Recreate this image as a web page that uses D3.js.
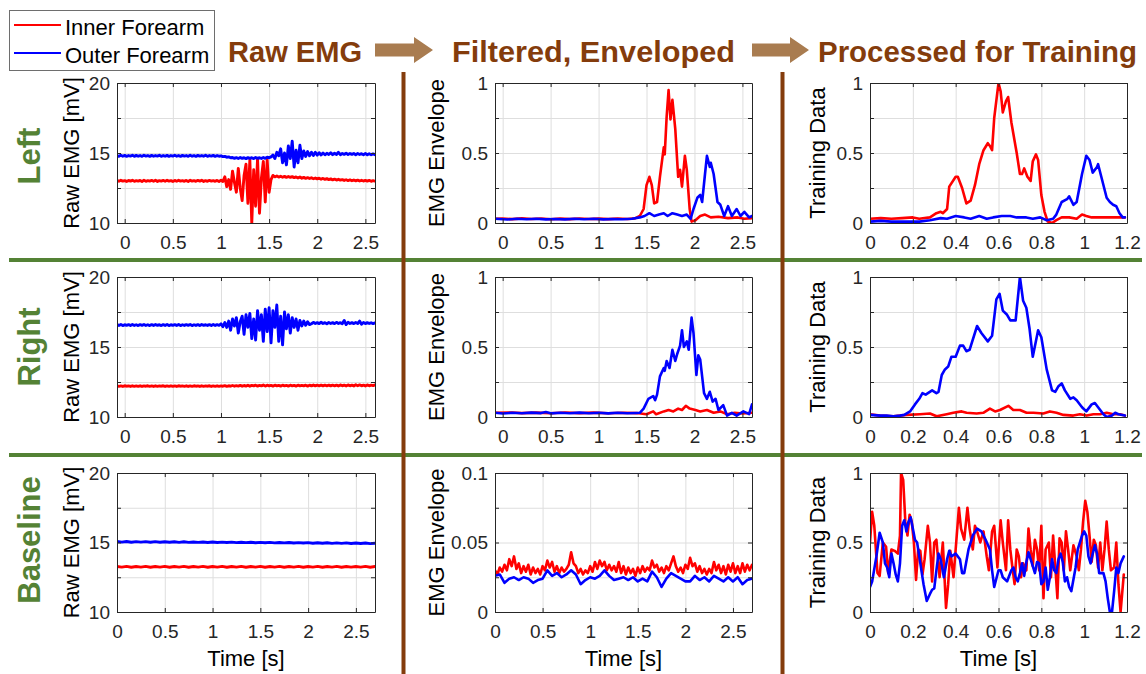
<!DOCTYPE html>
<html><head><meta charset="utf-8">
<script src="https://cdn.jsdelivr.net/npm/d3@7"></script>
<style>body{margin:0;background:#fff}svg{display:block}</style>
</head><body>
<svg id="chart" width="1146" height="674"></svg>
<script>
// ---------------- DATA ----------------
const seriesNames = ['Inner Forearm', 'Outer Forearm'];
const stageTitles = ['Raw EMG', 'Filtered, Enveloped', 'Processed for Training'];
const conditionLabels = ['Left', 'Right', 'Baseline'];
const yLabelNames = ['Raw EMG [mV]', 'EMG Envelope', 'Training Data'];
const xLabelName = 'Time [s]';

const timeTicks = [0, 0.5, 1, 1.5, 2, 2.5];
const trainTicks = [0, 0.2, 0.4, 0.6, 0.8, 1, 1.2];
const rawGrid = [10, 12.5, 15, 17.5, 20];
const rawTickLabels = [10, 15, 20];
const unitGrid = [0, 0.25, 0.5, 0.75, 1];
const unitTickLabels = [0, 0.5, 1];
const smallGrid = [0, 0.025, 0.05, 0.075, 0.1];
const smallTickLabels = [0, 0.05, 0.1];

// Raw EMG, uniformly sampled from -0.08 s to 2.6 s (Left, Right) and 0 to 2.7 s (Baseline)
const rawLeftOuter = [
14.82,14.76,14.84,14.77,14.83,14.76,14.82,14.78,14.84,14.76,
14.83,14.77,14.82,14.76,14.84,14.78,14.82,14.76,14.83,14.77,
14.82,14.78,14.84,14.76,14.82,14.77,14.83,14.76,14.82,14.78,
14.84,14.77,14.82,14.76,14.83,14.78,14.82,14.76,14.84,14.77,
14.82,14.76,14.83,14.78,14.82,14.77,14.84,14.76,14.82,14.78,
14.83,14.76,14.82,14.77,14.8,14.74,14.76,14.7,14.72,14.66,
14.68,14.62,14.67,14.61,14.68,14.62,14.66,14.6,14.67,14.62,
14.66,14.6,14.68,14.62,14.66,14.61,14.68,14.62,14.7,14.66,
14.72,14.85,14.6,15.05,14.8,15.3,14.3,15.0,14.15,15.5,
14.6,15.85,14.0,15.2,14.3,15.55,14.6,15.15,14.75,15.1,
14.8,15.05,14.82,15.05,14.85,15.02,14.86,15.0,14.87,14.98,
14.9,15.02,14.88,14.98,14.9,15.05,14.88,14.97,14.9,14.98,
14.89,14.96,14.9,14.97,14.88,14.96,14.89,14.95,14.88,14.96,
14.87,14.95,14.88,14.94,14.88];
const rawLeftInner = [
13.04,12.98,13.05,12.99,13.03,12.97,13.04,12.99,13.05,12.98,
13.03,12.99,13.04,12.97,13.05,12.98,13.03,12.99,13.04,12.98,
13.05,12.97,13.03,12.99,13.04,12.98,13.05,12.99,13.03,12.97,
13.04,12.98,13.05,12.99,13.03,12.98,13.04,12.97,13.05,12.99,
13.03,12.98,13.04,12.99,13.05,12.97,13.03,12.98,13.04,12.99,
13.03,12.98,13.04,12.97,13.05,12.96,13.3,12.6,13.1,12.4,
13.7,12.9,12.2,13.9,12.5,11.6,13.4,14.2,11.4,14.5,
10.0,13.8,11.2,14.6,10.7,13.2,14.4,11.5,14.5,12.2,
13.1,13.4,13.3,13.36,13.28,13.34,13.27,13.33,13.26,13.32,
13.26,13.31,13.24,13.29,13.22,13.28,13.2,13.26,13.19,13.24,
13.18,13.23,13.16,13.21,13.15,13.2,13.13,13.18,13.12,13.17,
13.1,13.15,13.08,13.13,13.07,13.12,13.06,13.1,13.04,13.09,
13.03,13.08,13.02,13.07,13.01,13.06,13.0,13.05,13.0,13.04,
12.99,13.04,12.98,13.03,12.99];
const rawRightOuter = [
16.6,16.54,16.61,16.53,16.59,16.55,16.6,16.53,16.61,16.54,
16.59,16.53,16.6,16.55,16.61,16.54,16.59,16.53,16.6,16.54,
16.61,16.55,16.59,16.53,16.6,16.54,16.61,16.53,16.59,16.55,
16.6,16.54,16.61,16.53,16.59,16.54,16.6,16.55,16.61,16.53,
16.59,16.54,16.6,16.53,16.61,16.55,16.59,16.54,16.6,16.53,
16.61,16.54,16.6,16.55,
16.65,16.45,16.75,16.4,16.85,
16.2,17.0,16.5,17.1,16.0,16.8,17.2,
15.9,17.3,16.4,17.4,15.6,17.0,
15.5,17.6,16.2,17.3,15.4,17.7,
16.1,17.8,15.3,17.6,16.4,18.0,
15.4,17.2,15.15,17.5,16.3,17.3,
16.0,17.1,16.4,17.0,16.2,16.9,
16.5,16.85,16.55,16.8,16.6,
16.66,16.76,16.68,16.74,16.67,16.77,16.68,16.74,16.66,16.75,
16.68,16.74,16.67,16.76,16.68,16.74,16.66,16.9,16.6,16.76,
16.68,16.74,16.67,16.75,16.68,16.85,16.62,16.75,16.67,16.74,
16.68,16.73,16.67,16.72];
const rawRightInner = [
12.23,12.19,12.22,12.18,12.23,12.2,12.22,12.18,12.23,12.19,
12.22,12.19,12.23,12.18,12.22,12.2,12.23,12.19,12.22,12.18,
12.23,12.19,12.22,12.2,12.23,12.18,12.22,12.19,12.23,12.19,
12.22,12.18,12.23,12.2,12.22,12.19,12.23,12.18,12.22,12.19,
12.23,12.2,12.22,12.18,12.23,12.19,12.22,12.2,12.23,12.18,
12.22,12.19,12.23,12.19,12.22,12.2,12.24,12.19,12.23,12.2,
12.25,12.2,12.24,12.21,12.26,12.2,12.25,12.21,12.27,12.2,
12.26,12.22,12.27,12.21,12.26,12.22,12.28,12.21,12.27,12.22,
12.26,12.21,12.27,12.22,12.26,12.21,12.27,12.22,12.26,12.21,
12.27,12.22,12.26,12.21,12.27,12.22,12.26,12.22,12.27,12.21,
12.27,12.22,12.28,12.22,12.27,12.23,12.28,12.22,12.27,12.23,
12.28,12.22,12.27,12.23,12.28,12.22,12.29,12.23,12.28,12.22,
12.29,12.23,12.28,12.22,12.3,12.23,12.29,12.23,12.28,12.22,
12.29,12.23,12.28,12.24,12.29];
const rawBaseOuter = [
15.07,15.03,15.07,15.02,15.06,15.03,15.06,15.02,15.06,15.02,
15.05,15.02,15.05,15.01,15.05,15.01,15.04,15.01,15.04,15.0,
15.04,15.0,15.03,15.0,15.03,14.99,15.02,14.99,15.02,14.98,
15.01,14.98,15.01,14.97,15.0,14.97,15.0,14.96,14.99,14.96,
14.99,14.95,14.98,14.95,14.98,14.94,14.97,14.94,14.97,14.93,
14.96,14.93,14.96,14.92,14.95];
const rawBaseInner = [
13.27,13.23,13.28,13.22,13.27,13.23,13.28,13.22,13.27,13.23,
13.28,13.22,13.27,13.23,13.28,13.22,13.27,13.23,13.28,13.22,
13.27,13.23,13.28,13.22,13.27,13.23,13.28,13.22,13.27,13.23,
13.28,13.22,13.27,13.23,13.28,13.22,13.27,13.23,13.28,13.22,
13.27,13.23,13.28,13.22,13.27,13.23,13.28,13.22,13.27,13.23,
13.27,13.23,13.28,13.22,13.27];

// EMG envelope, [time s, value]
const envLeftInner = [[-0.08,0.03],[0,0.032],[0.1,0.028],[0.2,0.033],[0.3,0.029],[0.4,0.032],[0.5,0.027],[0.6,0.031],[0.7,0.028],[0.8,0.032],[0.9,0.029],[1.0,0.031],[1.1,0.028],[1.2,0.032],[1.3,0.029],[1.38,0.033],[1.43,0.05],[1.47,0.1],[1.5,0.27],[1.53,0.33],[1.555,0.27],[1.58,0.14],[1.61,0.15],[1.64,0.33],[1.68,0.54],[1.69,0.49],[1.71,0.76],[1.73,0.95],[1.75,0.74],[1.77,0.88],[1.8,0.67],[1.83,0.33],[1.85,0.38],[1.87,0.26],[1.9,0.48],[1.92,0.38],[1.95,0.1],[1.97,0.01],[2.01,0.02],[2.06,0.05],[2.11,0.06],[2.17,0.04],[2.25,0.045],[2.35,0.035],[2.45,0.04],[2.52,0.03],[2.6,0.035]];
const envLeftOuter = [[-0.08,0.03],[0.05,0.025],[0.15,0.03],[0.25,0.027],[0.35,0.03],[0.45,0.026],[0.55,0.029],[0.65,0.026],[0.75,0.03],[0.85,0.027],[0.95,0.03],[1.05,0.026],[1.15,0.029],[1.25,0.027],[1.35,0.03],[1.43,0.04],[1.48,0.05],[1.53,0.07],[1.58,0.05],[1.63,0.06],[1.68,0.07],[1.72,0.05],[1.77,0.07],[1.82,0.06],[1.87,0.05],[1.92,0.06],[1.96,0.03],[1.99,0.1],[2.03,0.18],[2.06,0.2],[2.08,0.15],[2.11,0.35],[2.13,0.48],[2.16,0.4],[2.17,0.43],[2.2,0.35],[2.24,0.15],[2.27,0.13],[2.31,0.05],[2.35,0.12],[2.39,0.05],[2.44,0.1],[2.48,0.05],[2.52,0.08],[2.57,0.04],[2.6,0.05]];
const envRightInner = [[-0.08,0.03],[0.1,0.032],[0.2,0.028],[0.35,0.031],[0.5,0.027],[0.65,0.032],[0.8,0.028],[0.95,0.031],[1.1,0.027],[1.25,0.03],[1.4,0.028],[1.5,0.02],[1.57,0.04],[1.6,0.02],[1.68,0.04],[1.73,0.05],[1.78,0.04],[1.83,0.06],[1.87,0.05],[1.91,0.08],[1.95,0.06],[2.01,0.05],[2.06,0.04],[2.13,0.05],[2.2,0.03],[2.27,0.04],[2.34,0.02],[2.42,0.03],[2.5,0.025],[2.6,0.03]];
const envRightOuter = [[-0.08,0.03],[0.0,0.025],[0.1,0.03],[0.2,0.027],[0.3,0.031],[0.4,0.028],[0.45,0.035],[0.5,0.026],[0.6,0.03],[0.7,0.027],[0.8,0.031],[0.9,0.027],[1.0,0.03],[1.1,0.026],[1.2,0.03],[1.3,0.027],[1.4,0.029],[1.43,0.03],[1.47,0.06],[1.52,0.13],[1.57,0.15],[1.59,0.12],[1.61,0.16],[1.64,0.29],[1.68,0.35],[1.69,0.33],[1.71,0.4],[1.74,0.35],[1.77,0.48],[1.8,0.4],[1.82,0.45],[1.85,0.51],[1.87,0.62],[1.89,0.5],[1.92,0.54],[1.94,0.48],[1.97,0.71],[1.99,0.6],[2.02,0.3],[2.04,0.44],[2.06,0.41],[2.1,0.17],[2.13,0.13],[2.16,0.18],[2.19,0.11],[2.22,0.13],[2.25,0.05],[2.3,0.085],[2.34,0.01],[2.39,0.03],[2.44,0.01],[2.51,0.04],[2.57,0.02],[2.6,0.09]];
// Baseline envelope, uniformly sampled 0 to 2.7 s
const envBaseInner = [
0.030,0.027,0.032,0.029,0.034,0.030,0.038,0.033,0.040,0.031,
0.035,0.028,0.033,0.029,0.034,0.027,0.032,0.028,0.031,0.027,
0.033,0.030,0.037,0.032,0.036,0.029,0.033,0.028,0.032,0.029,
0.031,0.034,0.043,0.035,0.033,0.028,0.031,0.027,0.030,0.028,
0.033,0.029,0.036,0.031,0.037,0.033,0.036,0.030,0.034,0.030,
0.033,0.029,0.036,0.028,0.033,0.027,0.032,0.028,0.031,0.026,
0.032,0.028,0.033,0.029,0.032,0.030,0.037,0.032,0.034,0.029,
0.032,0.028,0.033,0.030,0.035,0.040,0.033,0.029,0.032,0.028,
0.034,0.031,0.039,0.033,0.035,0.029,0.033,0.028,0.031,0.027,
0.031,0.028,0.036,0.030,0.034,0.028,0.033,0.027,0.034,0.029,
0.035,0.028,0.033,0.028,0.035,0.029,0.034,0.030,0.034];
const envBaseOuter = [
0.026,0.027,0.021,0.024,0.025,0.023,0.025,0.024,0.021,0.023,
0.024,0.030,0.026,0.028,0.025,0.027,0.030,0.027,0.020,0.023,
0.025,0.024,0.026,0.030,0.026,0.023,0.024,0.025,0.023,0.025,
0.022,0.024,0.022,0.029,0.025,0.018,0.024,0.028,0.026,0.024,
0.022,0.022,0.026,0.023,0.025,0.022,0.026,0.024,0.022,0.025,
0.022,0.025,0.020,0.023,0.024];

// Training data, [time s, value]
const trainLeftInner = [[0,0.03],[0.05,0.035],[0.1,0.03],[0.15,0.035],[0.2,0.04],[0.23,0.03],[0.28,0.04],[0.31,0.07],[0.33,0.08],[0.34,0.07],[0.36,0.1],[0.37,0.26],[0.4,0.33],[0.41,0.33],[0.43,0.25],[0.45,0.14],[0.47,0.16],[0.49,0.27],[0.51,0.42],[0.53,0.52],[0.55,0.57],[0.56,0.55],[0.57,0.52],[0.58,0.75],[0.6,1.0],[0.61,0.94],[0.62,0.79],[0.635,0.87],[0.645,0.9],[0.66,0.72],[0.685,0.5],[0.7,0.35],[0.71,0.35],[0.72,0.39],[0.735,0.33],[0.75,0.3],[0.76,0.44],[0.775,0.49],[0.785,0.45],[0.8,0.2],[0.815,0.08],[0.83,0.01],[0.85,0.0],[0.87,0.02],[0.895,0.04],[0.93,0.04],[0.965,0.03],[0.99,0.06],[1.01,0.05],[1.035,0.04],[1.07,0.04],[1.12,0.04],[1.19,0.04]];
const trainLeftOuter = [[0,0.01],[0.05,0.015],[0.1,0.01],[0.15,0.01],[0.2,0.01],[0.23,0.01],[0.28,0.02],[0.33,0.035],[0.36,0.03],[0.4,0.05],[0.44,0.04],[0.47,0.03],[0.51,0.05],[0.545,0.03],[0.575,0.04],[0.615,0.05],[0.655,0.05],[0.685,0.04],[0.73,0.04],[0.76,0.03],[0.795,0.04],[0.825,0.02],[0.855,0.03],[0.87,0.06],[0.895,0.15],[0.92,0.17],[0.93,0.19],[0.95,0.13],[0.965,0.15],[0.99,0.35],[1.01,0.48],[1.025,0.45],[1.04,0.36],[1.06,0.4],[1.065,0.42],[1.08,0.33],[1.105,0.18],[1.12,0.15],[1.135,0.13],[1.15,0.12],[1.165,0.07],[1.18,0.04],[1.19,0.04]];
const trainRightInner = [[0,0.02],[0.047,0.01],[0.109,0.005],[0.171,0.015],[0.233,0.02],[0.28,0.025],[0.311,0.005],[0.358,0.02],[0.389,0.03],[0.428,0.04],[0.451,0.03],[0.498,0.025],[0.529,0.03],[0.56,0.06],[0.584,0.04],[0.607,0.05],[0.646,0.08],[0.669,0.05],[0.7,0.05],[0.731,0.03],[0.763,0.03],[0.809,0.025],[0.84,0.04],[0.871,0.03],[0.903,0.015],[0.949,0.01],[0.98,0.02],[1.012,0.01],[1.043,0.02],[1.074,0.02],[1.105,0.03],[1.136,0.02],[1.167,0.02],[1.19,0.01]];
const trainRightOuter = [[0,0.015],[0.047,0.01],[0.078,0.01],[0.109,0.005],[0.14,0.01],[0.16,0.015],[0.187,0.04],[0.21,0.09],[0.23,0.13],[0.245,0.17],[0.26,0.16],[0.29,0.19],[0.31,0.17],[0.32,0.18],[0.335,0.3],[0.35,0.34],[0.365,0.36],[0.38,0.43],[0.4,0.43],[0.42,0.51],[0.435,0.51],[0.45,0.47],[0.465,0.48],[0.5,0.65],[0.52,0.6],[0.55,0.54],[0.57,0.58],[0.59,0.84],[0.605,0.88],[0.62,0.76],[0.64,0.73],[0.655,0.69],[0.68,0.69],[0.7,1.0],[0.715,0.83],[0.73,0.78],[0.745,0.63],[0.76,0.43],[0.785,0.62],[0.8,0.57],[0.825,0.34],[0.85,0.19],[0.865,0.18],[0.88,0.22],[0.895,0.24],[0.91,0.19],[0.935,0.13],[0.95,0.14],[0.965,0.12],[0.99,0.07],[1.01,0.04],[1.035,0.09],[1.05,0.1],[1.065,0.07],[1.09,0.02],[1.105,0.0],[1.13,0.01],[1.145,0.03],[1.16,0.02],[1.19,0.01]];
const trainBaseInner = [[0,0.5],[0.01,0.72],[0.02,0.62],[0.035,0.28],[0.045,0.26],[0.06,0.5],[0.075,0.47],[0.085,0.28],[0.1,0.45],[0.115,0.44],[0.13,0.42],[0.14,0.55],[0.145,1.0],[0.155,0.95],[0.165,0.65],[0.175,0.55],[0.185,0.7],[0.195,0.65],[0.205,0.5],[0.215,0.23],[0.225,0.45],[0.235,0.44],[0.245,0.27],[0.255,0.38],[0.27,0.62],[0.28,0.5],[0.29,0.22],[0.3,0.5],[0.31,0.52],[0.325,0.25],[0.34,0.5],[0.355,0.03],[0.365,0.2],[0.375,0.44],[0.39,0.25],[0.4,0.45],[0.415,0.75],[0.425,0.6],[0.44,0.52],[0.455,0.75],[0.465,0.6],[0.48,0.45],[0.49,0.62],[0.5,0.58],[0.515,0.5],[0.53,0.58],[0.545,0.4],[0.555,0.3],[0.57,0.58],[0.58,0.62],[0.595,0.32],[0.61,0.66],[0.62,0.5],[0.635,0.3],[0.645,0.66],[0.655,0.45],[0.665,0.32],[0.675,0.2],[0.685,0.45],[0.695,0.4],[0.705,0.25],[0.715,0.35],[0.73,0.3],[0.74,0.6],[0.75,0.45],[0.76,0.33],[0.77,0.52],[0.78,0.45],[0.79,0.3],[0.8,0.62],[0.81,0.1],[0.82,0.45],[0.835,0.5],[0.845,0.25],[0.855,0.55],[0.865,0.33],[0.875,0.1],[0.885,0.53],[0.895,0.5],[0.905,0.3],[0.915,0.58],[0.925,0.45],[0.935,0.3],[0.95,0.48],[0.965,0.4],[0.975,0.3],[0.985,0.45],[0.995,0.65],[1.005,0.8],[1.015,0.72],[1.025,0.55],[1.035,0.36],[1.045,0.52],[1.055,0.48],[1.065,0.32],[1.075,0.5],[1.085,0.3],[1.095,0.45],[1.105,0.65],[1.115,0.45],[1.125,0.3],[1.14,0.32],[1.15,0.5],[1.16,0.2],[1.17,0.0],[1.185,0.27]];
const trainBaseOuter = [[0,0.18],[0.01,0.22],[0.03,0.4],[0.045,0.57],[0.06,0.5],[0.07,0.35],[0.08,0.32],[0.09,0.25],[0.1,0.42],[0.11,0.35],[0.12,0.27],[0.13,0.22],[0.14,0.35],[0.15,0.62],[0.16,0.66],[0.17,0.58],[0.18,0.65],[0.19,0.68],[0.2,0.6],[0.21,0.52],[0.22,0.5],[0.23,0.4],[0.25,0.2],[0.265,0.08],[0.28,0.13],[0.29,0.16],[0.3,0.17],[0.31,0.3],[0.32,0.42],[0.33,0.38],[0.345,0.25],[0.36,0.38],[0.37,0.44],[0.38,0.4],[0.4,0.42],[0.42,0.38],[0.43,0.28],[0.44,0.28],[0.46,0.45],[0.48,0.55],[0.5,0.6],[0.52,0.58],[0.54,0.52],[0.56,0.45],[0.57,0.3],[0.58,0.18],[0.6,0.3],[0.61,0.3],[0.62,0.25],[0.64,0.22],[0.66,0.3],[0.67,0.32],[0.68,0.25],[0.69,0.22],[0.7,0.28],[0.71,0.35],[0.72,0.26],[0.73,0.36],[0.74,0.43],[0.75,0.38],[0.77,0.28],[0.78,0.36],[0.79,0.35],[0.8,0.2],[0.81,0.22],[0.82,0.32],[0.83,0.16],[0.84,0.25],[0.85,0.38],[0.86,0.3],[0.87,0.28],[0.88,0.38],[0.89,0.42],[0.9,0.36],[0.91,0.22],[0.92,0.25],[0.93,0.18],[0.94,0.15],[0.96,0.32],[0.97,0.45],[0.99,0.55],[1.0,0.58],[1.01,0.55],[1.02,0.4],[1.03,0.35],[1.04,0.42],[1.05,0.48],[1.06,0.42],[1.07,0.28],[1.09,0.28],[1.1,0.22],[1.11,0.1],[1.12,0.0],[1.13,0.0],[1.14,0.15],[1.15,0.32],[1.16,0.28],[1.17,0.35],[1.185,0.4]];

// ---------------- DRAWING ----------------
const RED = '#ff0000', BLUE = '#0000ff';
const BROWN = '#843C0C', GREEN = '#548235', TAN = '#a97c50', AXC = '#262626';
const FONT = '"Liberation Sans", Arial, Helvetica, sans-serif';
const svg = d3.select('#chart');
svg.append('rect').attr('width', 1146).attr('height', 674).attr('fill', '#fff');

const uniform = (vals, t0, t1) => vals.map((v, i) => [t0 + i * (t1 - t0) / (vals.length - 1), v]);

const cols = [{x0: 117, x1: 375}, {x0: 495, x1: 752}, {x0: 870, x1: 1127}];
const rows = [{y0: 83, y1: 223}, {y0: 277, y1: 417}, {y0: 473, y1: 612}];
const yLabelX = [79, 444, 825];

const fmt = labels => d => labels.some(l => Math.abs(l - d) < 1e-9) ? String(d) : '';

const panels = [
  {row: 0, col: 0, xd: [-0.08, 2.6], yd: [10, 20], xt: timeTicks, yg: rawGrid, yl: rawTickLabels, lw: 2.9,
   s: [[uniform(rawLeftInner, -0.08, 2.6), RED], [uniform(rawLeftOuter, -0.08, 2.6), BLUE]]},
  {row: 0, col: 1, xd: [-0.08, 2.6], yd: [0, 1], xt: timeTicks, yg: unitGrid, yl: unitTickLabels, lw: 2.6,
   s: [[envLeftInner, RED], [envLeftOuter, BLUE]]},
  {row: 0, col: 2, xd: [0, 1.2], yd: [0, 1], xt: trainTicks, yg: unitGrid, yl: unitTickLabels, lw: 2.6,
   s: [[trainLeftInner, RED], [trainLeftOuter, BLUE]]},
  {row: 1, col: 0, xd: [-0.08, 2.6], yd: [10, 20], xt: timeTicks, yg: rawGrid, yl: rawTickLabels, lw: 2.9,
   s: [[uniform(rawRightInner, -0.08, 2.6), RED], [uniform(rawRightOuter, -0.08, 2.6), BLUE]]},
  {row: 1, col: 1, xd: [-0.08, 2.6], yd: [0, 1], xt: timeTicks, yg: unitGrid, yl: unitTickLabels, lw: 2.6,
   s: [[envRightInner, RED], [envRightOuter, BLUE]]},
  {row: 1, col: 2, xd: [0, 1.2], yd: [0, 1], xt: trainTicks, yg: unitGrid, yl: unitTickLabels, lw: 2.6,
   s: [[trainRightInner, RED], [trainRightOuter, BLUE]]},
  {row: 2, col: 0, xd: [0, 2.7], yd: [10, 20], xt: timeTicks, yg: rawGrid, yl: rawTickLabels, lw: 2.9,
   s: [[uniform(rawBaseInner, 0, 2.7), RED], [uniform(rawBaseOuter, 0, 2.7), BLUE]]},
  {row: 2, col: 1, xd: [0, 2.7], yd: [0, 0.1], xt: timeTicks, yg: smallGrid, yl: smallTickLabels, lw: 2.6,
   s: [[uniform(envBaseInner, 0, 2.7), RED], [uniform(envBaseOuter, 0, 2.7), BLUE]]},
  {row: 2, col: 2, xd: [0, 1.2], yd: [0, 1], xt: trainTicks, yg: unitGrid, yl: unitTickLabels, lw: 2.6,
   s: [[trainBaseInner, RED], [trainBaseOuter, BLUE]]}
];

const defs = svg.append('defs');

panels.forEach((p, k) => {
  const c = cols[p.col], r = rows[p.row];
  const w = c.x1 - c.x0, h = r.y1 - r.y0;
  const x = d3.scaleLinear().domain(p.xd).range([c.x0, c.x1]);
  const y = d3.scaleLinear().domain(p.yd).range([r.y1, r.y0]);
  const g = svg.append('g');

  // grid
  const inX = p.xt.filter(v => v > p.xd[0] + 1e-9 && v < p.xd[1] - 1e-9);
  const inY = p.yg.filter(v => v > p.yd[0] + 1e-9 && v < p.yd[1] - 1e-9);
  const gx = g.append('g').attr('transform', `translate(0,${r.y1})`)
    .call(d3.axisBottom(x).tickValues(inX).tickSize(-h).tickFormat(''));
  const gy = g.append('g').attr('transform', `translate(${c.x0},0)`)
    .call(d3.axisLeft(y).tickValues(inY).tickSize(-w).tickFormat(''));
  [gx, gy].forEach(a => { a.select('.domain').remove(); a.selectAll('line').attr('stroke', '#dedede').attr('stroke-width', 1); });

  // data lines
  defs.append('clipPath').attr('id', 'clip' + k).append('rect')
    .attr('x', c.x0).attr('y', r.y0).attr('width', w).attr('height', h);
  const line = d3.line().x(d => x(d[0])).y(d => y(d[1]));
  p.s.forEach(([data, color]) => {
    g.append('path').attr('d', line(data)).attr('clip-path', `url(#clip${k})`)
      .attr('fill', 'none').attr('stroke', color).attr('stroke-width', p.lw)
      .attr('stroke-linejoin', 'round').attr('stroke-linecap', 'round');
  });

  // axes
  const styleAxis = a => {
    a.select('.domain').attr('stroke', AXC).attr('stroke-width', 1);
    a.selectAll('.tick line').attr('stroke', AXC);
    a.selectAll('text').attr('fill', AXC).attr('font-family', FONT).attr('font-size', 19);
  };
  const ab = g.append('g').attr('transform', `translate(0,${r.y1})`)
    .call(d3.axisBottom(x).tickValues(p.xt).tickSizeInner(-4).tickSizeOuter(0).tickPadding(13).tickFormat(d => String(d)));
  const at = g.append('g').attr('transform', `translate(0,${r.y0})`)
    .call(d3.axisTop(x).tickValues(p.xt).tickSizeInner(-4).tickSizeOuter(0).tickFormat(''));
  const al = g.append('g').attr('transform', `translate(${c.x0},0)`)
    .call(d3.axisLeft(y).tickValues(p.yg).tickSizeInner(-4).tickSizeOuter(0).tickPadding(7).tickFormat(fmt(p.yl)));
  const ar = g.append('g').attr('transform', `translate(${c.x1},0)`)
    .call(d3.axisRight(y).tickValues(p.yg).tickSizeInner(-4).tickSizeOuter(0).tickFormat(''));
  [ab, at, al, ar].forEach(styleAxis);

  // y label
  g.append('text').attr('transform', `translate(${yLabelX[p.col]},${(r.y0 + r.y1) / 2}) rotate(-90)`)
    .attr('text-anchor', 'middle').attr('font-family', FONT).attr('font-size', 22).attr('fill', '#000')
    .text(yLabelNames[p.col]);
  // x label for bottom row
  if (p.row === 2) {
    g.append('text').attr('x', (c.x0 + c.x1) / 2).attr('y', 666).attr('text-anchor', 'middle')
      .attr('font-family', FONT).attr('font-size', 22).attr('fill', '#000').text(xLabelName);
  }
});

// separators
[260, 455].forEach(yy => svg.append('line').attr('x1', 9).attr('x2', 1142).attr('y1', yy).attr('y2', yy)
  .attr('stroke', GREEN).attr('stroke-width', 4));
[403.5, 782.5].forEach(xx => svg.append('line').attr('x1', xx).attr('x2', xx).attr('y1', 72).attr('y2', 674)
  .attr('stroke', BROWN).attr('stroke-width', 4));

// row labels
const rowCenters = [156, 347, 540];
conditionLabels.forEach((t, i) => {
  svg.append('text').attr('transform', `translate(40,${rowCenters[i]}) rotate(-90)`)
    .attr('text-anchor', 'middle').attr('font-family', FONT).attr('font-weight', 'bold')
    .attr('font-size', 31).attr('fill', GREEN).text(t);
});

// stage headers
const headerPos = [[228, 362], [452, 735], [818, 1137]];
stageTitles.forEach((t, i) => {
  svg.append('text').attr('x', headerPos[i][0]).attr('y', 62)
    .attr('font-family', FONT)
    .attr('font-weight', 'bold').attr('font-size', 29).attr('fill', BROWN)
    .attr('textLength', headerPos[i][1] - headerPos[i][0]).attr('lengthAdjust', 'spacingAndGlyphs')
    .text(t);
});
// arrows
[[375, 433], [752, 809]].forEach(([a, b]) => {
  const cy = 50, hb = b - 19;
  svg.append('path').attr('fill', TAN)
    .attr('d', `M${a},${cy - 6.5}L${hb},${cy - 6.5}L${hb},${cy - 13}L${b},${cy}L${hb},${cy + 13}L${hb},${cy + 6.5}L${a},${cy + 6.5}Z`);
});

// legend
const lg = svg.append('g');
lg.append('rect').attr('x', 9.5).attr('y', 10.5).attr('width', 205).attr('height', 60)
  .attr('fill', '#fff').attr('stroke', '#6e6e6e').attr('stroke-width', 1);
[[RED, 25, 35], [BLUE, 53, 63]].forEach(([col, ly, ty], i) => {
  lg.append('line').attr('x1', 14).attr('x2', 61).attr('y1', ly).attr('y2', ly).attr('stroke', col).attr('stroke-width', 2.2);
  lg.append('text').attr('x', 65).attr('y', ty).attr('font-family', FONT).attr('font-size', 22)
    .attr('fill', '#000').text(seriesNames[i]);
});
</script>
</body></html>
